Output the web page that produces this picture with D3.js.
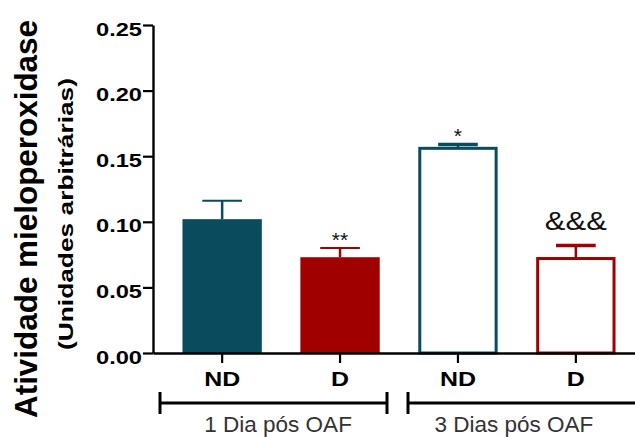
<!DOCTYPE html>
<html>
<head>
<meta charset="utf-8">
<script src="https://cdn.jsdelivr.net/npm/d3@7"></script>
<style>
  body { margin: 0; background: #fff; }
  text { font-family: "Liberation Sans", Arial, sans-serif; }
</style>
</head>
<body>
<div id="chart"></div>
<script>
// data
const categories = ["ND", "D", "ND", "D"];
const groups = ["1 Dia pós OAF", "3 Dias pós OAF"];
const means = [0.102, 0.073, 0.156, 0.072];
const errors = [0.014, 0.007, 0.003, 0.010];
const marks = ["", "**", "*", "&&&"];
const filled = [true, true, false, false];
const yTicks = [0, 0.05, 0.10, 0.15, 0.20, 0.25];

const teal = "#0a4c5e", red = "#a00000";
const colors = [teal, red, teal, red];

const width = 635, height = 437;
const svg = d3.select("#chart").append("svg")
    .attr("width", width).attr("height", height);

const x0 = 153, yTop = 25, yBot = 353;

const y = d3.scaleLinear().domain([0, 0.25]).range([yBot, yTop]);
const x = d3.scaleBand().domain(d3.range(categories.length))
    .range([153, 645]).paddingInner(0.327).paddingOuter(0.25);

// y axis
const yAxis = svg.append("g").attr("transform", `translate(${x0},0)`)
    .call(d3.axisLeft(y).tickValues(yTicks).tickFormat(d3.format(".2f")).tickSize(10).tickSizeOuter(0));
yAxis.select(".domain").attr("stroke-width", 2.4).attr("stroke", "#000");
yAxis.selectAll(".tick line").attr("stroke-width", 2.2);
yAxis.selectAll(".tick text").attr("font-size", 18.5).attr("font-weight", "bold")
    .attr("font-family", "Liberation Sans, Arial, sans-serif").attr("fill", "#000")
    .attr("x", -11).attr("dy", 10)
    .attr("textLength", 46).attr("lengthAdjust", "spacingAndGlyphs");

// bars
const bars = svg.append("g");
categories.forEach((c, i) => {
  const bx = x(i), bw = x.bandwidth();
  const cx = bx + bw / 2;
  const col = colors[i];
  const top = y(means[i] + errors[i]);
  // error bar
  bars.append("line").attr("x1", cx).attr("x2", cx)
    .attr("y1", y(means[i])).attr("y2", top)
    .attr("stroke", col).attr("stroke-width", 2.5);
  bars.append("line").attr("x1", cx - bw / 4).attr("x2", cx + bw / 4)
    .attr("y1", top).attr("y2", top)
    .attr("stroke", col).attr("stroke-width", filled[i] ? 2 : 3.5);
  if (filled[i]) {
    bars.append("rect").attr("x", bx).attr("y", y(means[i]))
      .attr("width", bw).attr("height", yBot - y(means[i])).attr("fill", col);
  } else {
    bars.append("rect").attr("x", bx + 1.5).attr("y", y(means[i]))
      .attr("width", bw - 3).attr("height", yBot - y(means[i]))
      .attr("fill", "#fff").attr("stroke", col).attr("stroke-width", 3);
  }
  if (marks[i]) {
    const t = bars.append("text").attr("x", cx)
      .attr("text-anchor", "middle").attr("fill", "#111").text(marks[i]);
    if (marks[i].startsWith("&")) {
      t.attr("y", top - 15).attr("font-size", 25)
        .attr("textLength", 62).attr("lengthAdjust", "spacingAndGlyphs");
    } else {
      t.attr("y", top - 1).attr("font-size", 21);
    }
  }
});

// x axis
const xAxis = svg.append("g").attr("transform", `translate(0,${yBot})`)
    .call(d3.axisBottom(x).tickFormat(i => categories[i]).tickSize(10).tickSizeOuter(0));
xAxis.select(".domain").attr("stroke-width", 2.4).attr("stroke", "#000");
xAxis.selectAll(".tick line").attr("stroke-width", 2.2);
xAxis.selectAll(".tick text").attr("font-size", 20).attr("font-weight", "bold")
    .attr("font-family", "Liberation Sans, Arial, sans-serif").attr("fill", "#000")
    .attr("y", 33).attr("dy", 0)
    .attr("textLength", i => categories[i] === "ND" ? 36 : 18)
    .attr("lengthAdjust", "spacingAndGlyphs");

// group brackets
const brackets = [[160, 387], [408, 640]];
const bg = svg.append("g");
groups.forEach((g, k) => {
  const [a, b] = brackets[k];
  bg.append("line").attr("x1", a).attr("x2", b).attr("y1", 403).attr("y2", 403)
    .attr("stroke", "#000").attr("stroke-width", 3.2);
  [a, b].forEach(p => bg.append("line").attr("x1", p).attr("x2", p)
    .attr("y1", 392).attr("y2", 414).attr("stroke", "#000").attr("stroke-width", 3));
  const cx = (x(2 * k) + x(2 * k + 1) + x.bandwidth()) / 2;
  bg.append("text").attr("x", cx - 3).attr("y", 432).attr("text-anchor", "middle")
    .attr("font-size", 22.5).attr("fill", "#333").text(g);
});

// axis titles
svg.append("text").attr("transform", "translate(37,219) rotate(-90)")
  .attr("text-anchor", "middle").attr("font-size", 32).attr("font-weight", "bold")
  .attr("font-family", "Open Sans, Liberation Sans, sans-serif")
  .attr("textLength", 398).attr("lengthAdjust", "spacingAndGlyphs")
  .text("Atividade mieloperoxidase");
svg.append("text").attr("transform", "translate(73,214) rotate(-90)")
  .attr("text-anchor", "middle").attr("font-size", 20).attr("font-weight", "bold")
  .attr("textLength", 272).attr("lengthAdjust", "spacingAndGlyphs")
  .text("(Unidades arbitrárias)");
</script>
</body>
</html>
